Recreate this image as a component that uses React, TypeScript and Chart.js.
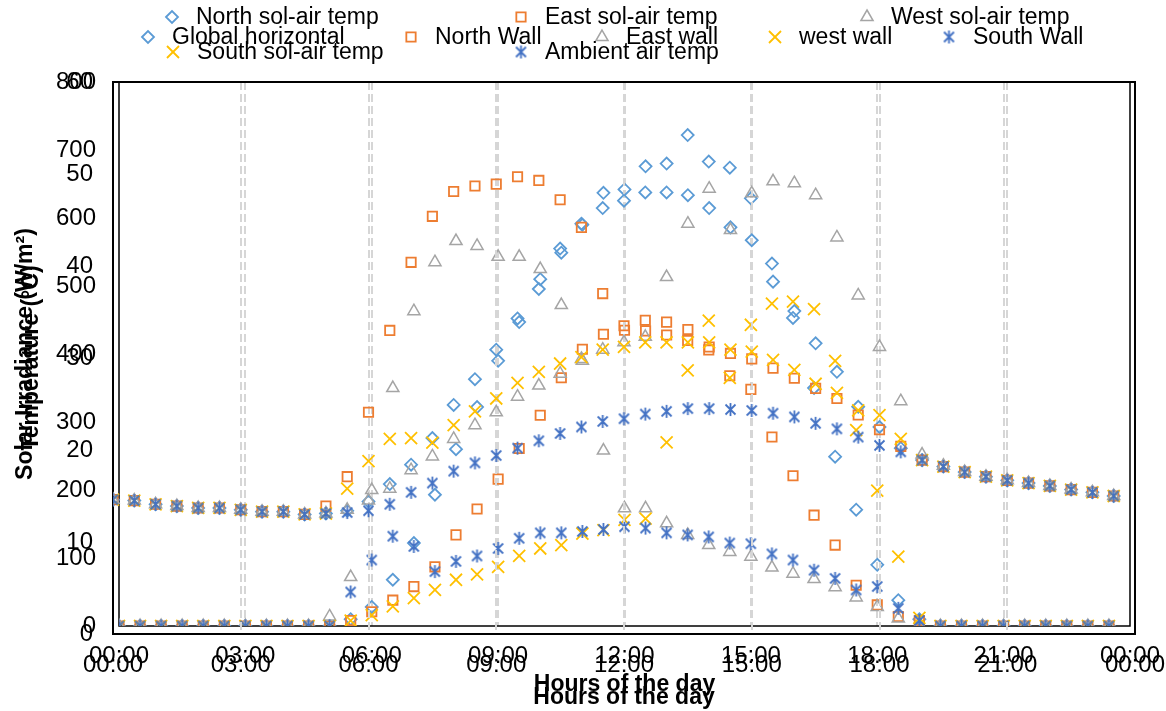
import React, { useEffect, useRef } from 'react';
import { Chart, registerables } from 'chart.js';
import { drawPoint } from 'chart.js/helpers';

Chart.register(...registerables);

// ---------- data ----------
const hours = [0, 0.5, 1, 1.5, 2, 2.5, 3, 3.5, 4, 4.5, 5, 5.5, 6, 6.5, 7, 7.5, 8, 8.5, 9, 9.5, 10, 10.5, 11, 11.5,
  12, 12.5, 13, 13.5, 14, 14.5, 15, 15.5, 16, 16.5, 17, 17.5, 18, 18.5, 19, 19.5, 20, 20.5, 21, 21.5, 22, 22.5, 23, 23.5];

const xTickHours = [0, 3, 6, 9, 12, 15, 18, 21, 24];
const xTickLabels = ['00:00', '03:00', '06:00', '09:00', '12:00', '15:00', '18:00', '21:00', '00:00'];

// Solar irradiance (W/m2)
const globalHorizontal = [0, 0, 0, 0, 0, 0, 0, 0, 0, 0, 0, 10, 28, 68, 122, 193, 260, 322, 390, 447, 510, 549, 590, 637,
  642, 676, 680, 722, 683, 674, 629, 533, 453, 350, 249, 171, 90, 38, 10, 0, 0, 0, 0, 0, 0, 0, 0, 0];
const northWall = [0, 0, 0, 0, 0, 0, 0, 0, 0, 0, 0, 8, 21, 38, 58, 87, 134, 172, 216, 261, 310, 365, 407, 429,
  435, 434, 428, 420, 406, 368, 348, 278, 221, 163, 119, 60, 31, 14, 8, 0, 0, 0, 0, 0, 0, 0, 0, 0];
const eastWall = [0, 0, 0, 0, 0, 0, 0, 0, 0, 0, 14, 72, 200, 350, 463, 535, 566, 559, 543, 543, 525, 472, 390, 258,
  173, 173, 151, 134, 119, 109, 102, 86, 77, 69, 57, 42, 28, 11, 0, 0, 0, 0, 0, 0, 0, 0, 0, 0];
const westWall = [0, 0, 0, 0, 0, 0, 0, 0, 0, 0, 0, 8, 16, 29, 41, 53, 68, 76, 87, 103, 114, 119, 136, 141,
  156, 158, 270, 376, 449, 365, 443, 474, 477, 466, 390, 288, 199, 102, 12, 0, 0, 0, 0, 0, 0, 0, 0, 0];
const southWall = [0, 0, 0, 0, 0, 0, 0, 0, 0, 0, 0, 50, 97, 132, 117, 80, 95, 103, 114, 129, 137, 137, 139, 142,
  146, 144, 137, 134, 131, 122, 121, 106, 97, 82, 70, 53, 58, 26, 8, 0, 0, 0, 0, 0, 0, 0, 0, 0];

// Temperatures (°C)
const northSolAir = [14.6, 14.5, 14.1, 13.9, 13.7, 13.7, 13.5, 13.3, 13.3, 13.0, 13.1, 13.4, 14.4, 16.3, 18.4, 21.3, 24.9, 27.7, 30.9, 34.3, 37.5, 41.9, 44.6, 46.3,
  47.1, 48.0, 48.0, 47.7, 46.3, 44.2, 42.8, 38.3, 35.1, 31.6, 28.5, 24.7, 22.5, 20.2, 18.9, 18.2, 17.6, 17.1, 16.7, 16.4, 16.1, 15.7, 15.4, 15.0];
const eastSolAir = [14.6, 14.5, 14.1, 13.9, 13.7, 13.7, 13.5, 13.3, 13.3, 13.0, 13.9, 17.1, 24.1, 33.0, 40.4, 45.4, 48.1, 48.7, 48.9, 49.7, 49.3, 47.2, 44.2, 37.0,
  33.5, 34.1, 33.9, 33.1, 31.2, 30.5, 29.9, 28.9, 27.8, 26.7, 25.6, 23.8, 22.2, 20.4, 18.9, 18.2, 17.6, 17.1, 16.7, 16.4, 16.1, 15.7, 15.4, 15.0];
const westSolAir = [14.6, 14.5, 14.1, 13.9, 13.7, 13.7, 13.5, 13.3, 13.3, 13.0, 13.1, 13.5, 14.5, 15.8, 17.8, 19.3, 21.2, 22.7, 24.1, 25.8, 27.0, 28.3, 29.9, 30.9,
  31.7, 32.3, 38.8, 44.6, 48.4, 43.9, 47.9, 49.2, 49.0, 47.7, 43.1, 36.8, 31.2, 25.3, 19.5, 18.3, 17.6, 17.1, 16.7, 16.4, 16.1, 15.7, 15.4, 15.0];
const southSolAir = [14.6, 14.5, 14.1, 13.9, 13.7, 13.7, 13.5, 13.3, 13.3, 13.0, 13.1, 15.8, 18.8, 21.2, 21.3, 20.8, 22.7, 24.2, 25.6, 27.3, 28.5, 29.4, 30.1, 30.9,
  31.2, 31.7, 31.7, 31.7, 31.7, 30.9, 30.7, 29.8, 28.7, 27.2, 26.2, 24.3, 23.8, 21.2, 18.9, 18.2, 17.6, 17.1, 16.7, 16.4, 16.1, 15.7, 15.4, 15.0];
const ambientAir = [14.6, 14.5, 14.1, 13.9, 13.7, 13.7, 13.5, 13.3, 13.3, 13.0, 13.1, 13.2, 13.4, 14.1, 15.4, 16.4, 17.7, 18.6, 19.4, 20.2, 21.0, 21.8, 22.5, 23.1,
  23.4, 23.9, 24.2, 24.5, 24.5, 24.4, 24.3, 24.0, 23.6, 22.9, 22.3, 21.4, 20.5, 19.8, 18.9, 18.2, 17.6, 17.1, 16.7, 16.4, 16.1, 15.7, 15.4, 15.0];

const irrLabels = ['Global horizontal', 'North Wall', 'East wall', 'west wall', 'South Wall'];
const tempLabels = ['North sol-air temp', 'East sol-air temp', 'West sol-air temp', 'South sol-air temp', 'Ambient air temp'];

// ---------- styling ----------
const FONT = '"Liberation Sans", Arial, sans-serif';
const COLORS = ['#5B9BD5', '#ED7D31', '#A5A5A5', '#FFC000', '#4472C4'];
const STYLES = ['rectRot', 'rect', 'triangle', 'crossRot', 'star'];
const RADII = [6, 6.6, 7, 8.5, 7];
const BWIDTHS = [1.8, 1.8, 1.5, 1.8, 1.8];

function makeStar(color: string) {
  const size = 15;
  const c = document.createElement('canvas');
  c.width = size;
  c.height = size;
  const g = c.getContext('2d') as CanvasRenderingContext2D;
  g.strokeStyle = color;
  g.lineWidth = 1.8;
  const m = size / 2;
  const d = 5;
  const r = 6.5;
  g.beginPath();
  g.moveTo(m - d, m - d); g.lineTo(m + d, m + d);
  g.moveTo(m + d, m - d); g.lineTo(m - d, m + d);
  g.moveTo(m, m - r); g.lineTo(m, m + r);
  g.stroke();
  return c;
}

function buildDatasets(labels: string[], series: number[][], star: HTMLCanvasElement) {
  return series.map((vals, i) => ({
    label: labels[i],
    data: hours.map((h, k) => ({ x: h, y: vals[k] })),
    pointStyle: i === 4 ? star : STYLES[i],
    pointRadius: RADII[i],
    pointHoverRadius: RADII[i],
    pointBorderWidth: BWIDTHS[i],
    borderColor: COLORS[i],
    backgroundColor: 'rgba(0,0,0,0)',
    showLine: false,
    order: 5 - i,
  }));
}

type Spot = { ds: number; mx: number; my: number };

function legendPlugin(spots: Spot[]) {
  return {
    id: 'excelLegend',
    afterDraw(chart: any) {
      const ctx = chart.ctx as CanvasRenderingContext2D;
      ctx.save();
      spots.forEach((s) => {
        const ds = chart.data.datasets[s.ds];
        ctx.save();
        ctx.strokeStyle = ds.borderColor;
        ctx.fillStyle = 'rgba(0,0,0,0)';
        ctx.lineWidth = ds.pointBorderWidth;
        drawPoint(ctx, { pointStyle: ds.pointStyle, radius: ds.pointRadius, borderWidth: ds.pointBorderWidth, rotation: 0 } as any, s.mx, s.my);
        ctx.restore();
        ctx.font = '23px ' + FONT;
        ctx.textBaseline = 'middle';
        ctx.textAlign = 'left';
        ctx.fillStyle = '#000';
        ctx.fillText(ds.label, s.mx + 24, s.my + 1);
      });
      ctx.restore();
    },
  };
}

function framePlugin(width: number) {
  return {
    id: 'plotFrame',
    beforeDatasetsDraw(chart: any) {
      const { left, top, right, bottom } = chart.chartArea;
      const ctx = chart.ctx as CanvasRenderingContext2D;
      ctx.save();
      ctx.strokeStyle = '#000';
      ctx.lineWidth = width;
      ctx.strokeRect(left, top, right - left, bottom - top);
      ctx.restore();
    },
  };
}

function xAxis(plotBottom: number, tickPad: number, titlePadBottom: number) {
  return {
    type: 'linear',
    min: 0,
    max: 24,
    afterBuildTicks: (s: any) => {
      s.ticks = xTickHours.map((v) => ({ value: v }));
    },
    afterFit: (s: any) => {
      s.height = 711 - plotBottom;
      s.paddingLeft = 0;
      s.paddingRight = 0;
    },
    ticks: {
      autoSkip: false,
      maxRotation: 0,
      padding: tickPad,
      color: '#000',
      font: { family: FONT, size: 24 },
      callback: (v: any) => xTickLabels[xTickHours.indexOf(Number(v))],
    },
    grid: {
      drawTicks: false,
      lineWidth: 2,
      color: (c: any) => (c.tick && (c.tick.value === 0 || c.tick.value === 24) ? 'rgba(0,0,0,0)' : '#D6D6D6'),
    },
    border: { display: false, dash: [8, 4] },
    title: {
      display: true,
      text: 'Hours of the day',
      color: '#000',
      font: { family: FONT, size: 23, weight: 'bold' },
      padding: { top: 0, bottom: titlePadBottom },
    },
  };
}

function yAxis(max: number, step: number, plotLeft: number, tickPad: number, title: string, titlePadTop: number) {
  return {
    type: 'linear',
    min: 0,
    max,
    afterFit: (s: any) => {
      s.width = plotLeft;
    },
    ticks: {
      stepSize: step,
      padding: tickPad,
      color: '#000',
      font: { family: FONT, size: 24 },
    },
    grid: { display: false, drawTicks: false },
    border: { display: false },
    title: {
      display: true,
      text: title,
      color: '#000',
      font: { family: FONT, size: 23, weight: 'bold' },
      padding: { top: titlePadTop, bottom: 0 },
    },
  };
}

export default function App() {
  const irrRef = useRef<HTMLCanvasElement>(null);
  const tempRef = useRef<HTMLCanvasElement>(null);

  useEffect(() => {
    const star = makeStar(COLORS[4]);

    const irrChart = new Chart(irrRef.current as HTMLCanvasElement, {
      type: 'scatter',
      data: {
        datasets: buildDatasets(irrLabels, [globalHorizontal, northWall, eastWall, westWall, southWall], star) as any,
      },
      options: {
        responsive: false,
        animation: false,
        layout: { padding: { left: 0, top: 82, right: 1166 - 1130, bottom: 0 } },
        plugins: { legend: { display: false }, tooltip: { enabled: false } },
        scales: {
          x: xAxis(626, 16, 13) as any,
          y: yAxis(800, 100, 119, 23, 'Solar Irradiance (W/m\u00B2)', 12) as any,
        },
      },
      plugins: [
        framePlugin(1.5),
        legendPlugin([
          { ds: 0, mx: 148, my: 37 },
          { ds: 1, mx: 411, my: 37 },
          { ds: 2, mx: 602, my: 37 },
          { ds: 3, mx: 775, my: 37 },
          { ds: 4, mx: 949, my: 37 },
        ]),
      ],
    });

    const tempChart = new Chart(tempRef.current as HTMLCanvasElement, {
      type: 'scatter',
      data: {
        datasets: buildDatasets(tempLabels, [northSolAir, eastSolAir, westSolAir, southSolAir, ambientAir], star) as any,
      },
      options: {
        responsive: false,
        animation: false,
        layout: { padding: { left: 0, top: 82, right: 1166 - 1135, bottom: 0 } },
        plugins: { legend: { display: false }, tooltip: { enabled: false } },
        scales: {
          x: xAxis(634, 17, 0) as any,
          y: yAxis(60, 10, 113, 20, 'Temperature (\u00B0C)', 18) as any,
        },
      },
      plugins: [
        framePlugin(2),
        legendPlugin([
          { ds: 0, mx: 172, my: 17 },
          { ds: 1, mx: 521, my: 17 },
          { ds: 2, mx: 867, my: 17 },
          { ds: 3, mx: 173, my: 52 },
          { ds: 4, mx: 521, my: 52 },
        ]),
      ],
    });

    return () => {
      irrChart.destroy();
      tempChart.destroy();
    };
  }, []);

  const canvasStyle: React.CSSProperties = { position: 'absolute', left: 0, top: 0, width: 1166, height: 711 };
  return (
    <div style={{ position: 'absolute', left: 0, top: 0, width: 1166, height: 711, background: '#fff', overflow: 'hidden' }}>
      <canvas ref={irrRef} width={1166} height={711} style={canvasStyle} />
      <canvas ref={tempRef} width={1166} height={711} style={canvasStyle} />
    </div>
  );
}
